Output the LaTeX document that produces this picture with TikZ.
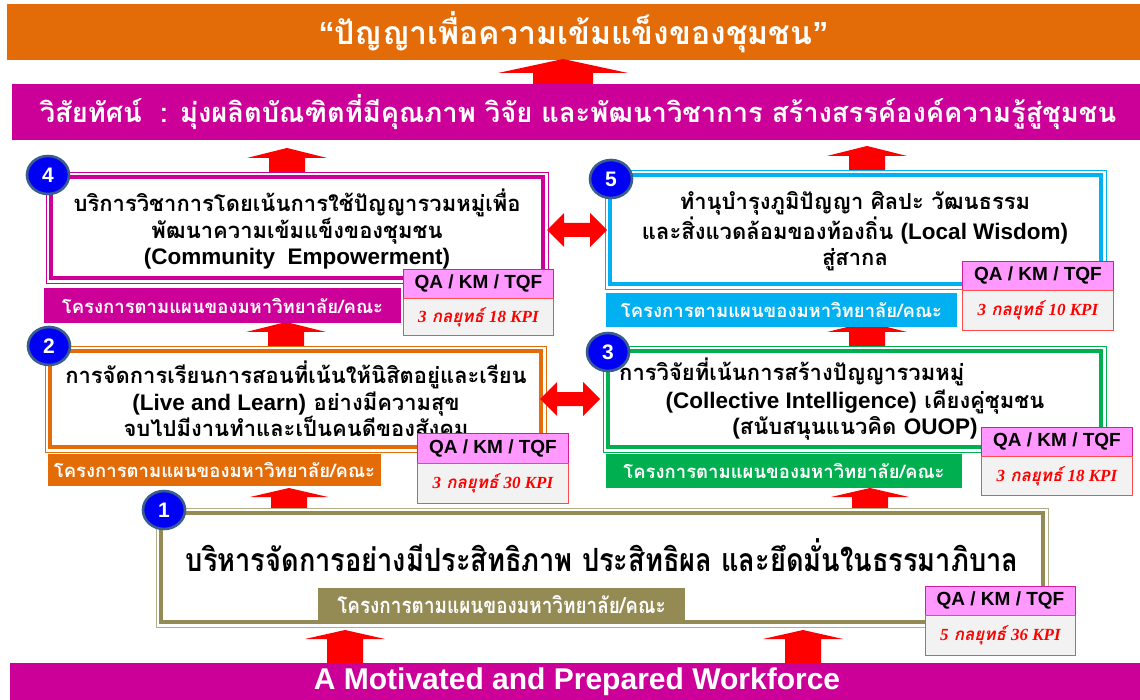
\documentclass[tikz,border=0pt]{standalone}
\usepackage{fontspec}
\usetikzlibrary{shapes.geometric}
\newfontfamily\thf[Script=Thai]{Loma}
\newfontfamily\thcond[Script=Thai,FakeStretch=0.85]{Loma}
\newfontfamily\thcondb[Script=Thai,FakeStretch=0.86]{Loma}
\newfontfamily\laf{Liberation Sans}
\newfontfamily\sef{Liberation Serif}
\definecolor{orangeC}{HTML}{E36C09}
\definecolor{magC}{HTML}{CC0099}
\definecolor{cyanC}{HTML}{00B0F0}
\definecolor{greenC}{HTML}{00B050}
\definecolor{oliveC}{HTML}{948A54}
\definecolor{oliveL}{HTML}{B3AC84}
\definecolor{qaPink}{HTML}{FF99FF}
\definecolor{qaLine}{HTML}{D61C96}
\definecolor{qaBody}{HTML}{F2F2F2}
\definecolor{qaRed}{HTML}{FF4B4B}
\definecolor{circFill}{HTML}{0000F5}
\definecolor{circLine}{HTML}{3A5D8F}
\definecolor{arrRed}{HTML}{FF0000}
\newcommand\UpArr[6]{% x, tip, headbase, bottom, headhalf, shafthalf
  \fill[arrRed] ({#1-#6},#4) -- ({#1-#6},#3) -- ({#1-#5},#3) -- (#1,#2) -- ({#1+#5},#3) -- ({#1+#6},#3) -- ({#1+#6},#4) -- cycle;}
\newcommand\DblArr[6]{% x1, x2, yc, headlen, headhalf, shafthalf
  \fill[arrRed] (#1,#3) -- ({#1+#4},{#3-#5}) -- ({#1+#4},{#3-#6}) -- ({#2-#4},{#3-#6}) -- ({#2-#4},{#3-#5}) -- (#2,#3)
   -- ({#2-#4},{#3+#5}) -- ({#2-#4},{#3+#6}) -- ({#1+#4},{#3+#6}) -- ({#1+#4},{#3+#5}) -- cycle;}
\newcommand\QAbox[7]{% name, x1, x2, y1, y2, y3, kpi text
  \node[qahead, minimum width={#3-#2}, minimum height={#5-#4}, anchor=north west] (#1h) at (#2,#4) {QA / KM / TQF};
  \node[qabody, minimum width={#3-#2}, minimum height={#6-#5}, anchor=north west] (#1b) at (#2,#5) {#7};}
\newcommand\KPI[2]{{\sef\bfseries\itshape #1} {\thf\bfseries\itshape กลยุทธ์} {\sef\bfseries\itshape #2 KPI}}
\newcommand\Lat[1]{{\laf\fontsize{22.5}{24}\selectfont #1}}
\begin{document}
\begin{tikzpicture}[x=1pt,y=-1pt,
  band/.style={fill=#1, draw=none, inner sep=0pt, text=white},
  outerb/.style={draw=#1, line width=0.9pt, fill=white, inner sep=0pt},
  innerb/.style={draw=#1, line width=3.4pt, inner sep=0pt},
  strip/.style={fill=#1, draw=none, inner sep=0pt, text=white, font=\thf\bfseries\fontsize{18.5}{20}\selectfont},
  boxtext/.style={align=center, inner sep=0pt, font=\thf\bfseries\fontsize{22}{25.5}\selectfont},
  numc/.style={ellipse, fill=circFill, draw=circLine, line width=2.6pt, minimum width=42pt, minimum height=38pt, inner sep=0pt, text=white, font=\laf\bfseries\fontsize{21}{21}\selectfont},
  qahead/.style={fill=qaPink, draw=qaLine, line width=0.9pt, inner sep=0pt, font=\laf\bfseries\fontsize{19}{19}\selectfont},
  qabody/.style={fill=qaBody, draw=qaRed, line width=0.9pt, inner sep=0pt, text=red, font=\fontsize{17}{17}\selectfont}]
\useasboundingbox (0,0) rectangle (1140,700);
\fill[white] (0,0) rectangle (1140,700);

% banners
\node[band=orangeC, minimum width=1133pt, minimum height=56pt, font=\thf\bfseries\fontsize{32}{34}\selectfont] (top) at (573.5,32) {{\laf “}ปัญญาเพื่อความเข้มแข็งของชุมชน{\laf ”}};
\node[band=magC, minimum width=1133pt, minimum height=56pt, font=\thf\bfseries\fontsize{27.3}{28}\selectfont] (vision) at (578,112) {วิสัยทัศน์~~: มุ่งผลิตบัณฑิตที่มีคุณภาพ วิจัย และพัฒนาวิชาการ สร้างสรรค์องค์ความรู้สู่ชุมชน};
\node[band=magC, minimum width=1135pt, minimum height=37pt, font=\laf\bfseries\fontsize{30}{30}\selectfont] (bottom) at (577,681.5) {A Motivated and Prepared Workforce};

% up arrows
\UpArr{563}{59}{73}{84}{65}{30}
\UpArr{287}{148}{158}{172}{40}{18}
\UpArr{867}{146}{156}{170}{40}{18}
\UpArr{286}{322}{332}{346}{40}{18}
\UpArr{867}{322}{332}{346}{40}{18}
\UpArr{289}{488}{497}{509}{39}{18}
\UpArr{870}{488}{497}{509}{39}{18}
\UpArr{345}{630}{639}{663}{40}{18}
\UpArr{803}{630}{639}{663}{40}{18}

% boxes
\node[outerb=magC, minimum width=502pt, minimum height=111pt] (b4o) at (297,227.5) {};
\node[innerb=magC, minimum width=492pt, minimum height=101pt] (b4) at (b4o) {};
\node[outerb=cyanC, minimum width=501pt, minimum height=119pt] (b5o) at (855.5,229.5) {};
\node[innerb=cyanC, minimum width=491pt, minimum height=109pt] (b5) at (b5o) {};
\node[outerb=orangeC, minimum width=501pt, minimum height=106pt] (b2o) at (295.5,399) {};
\node[innerb=orangeC, minimum width=491pt, minimum height=96pt] (b2) at (b2o) {};
\node[outerb=greenC, minimum width=503pt, minimum height=106pt] (b3o) at (854.5,399) {};
\node[innerb=greenC, minimum width=493pt, minimum height=96pt] (b3) at (b3o) {};
\node[outerb=oliveL, minimum width=892pt, minimum height=119pt] (b1o) at (602,567.5) {};
\node[innerb=oliveC, minimum width=882pt, minimum height=109pt] (b1) at (b1o) {};

% box texts
\node[boxtext] (t4) at (297,229) {บริการวิชาการโดยเน้นการใช้ปัญญารวมหมู่เพื่อ\\พัฒนาความเข้มแข็งของชุมชน\\\Lat{(Community~~Empowerment)}};
\node[boxtext, font=\thf\bfseries\fontsize{22}{26.5}\selectfont] (t5) at (855,231.5) {ทำนุบำรุงภูมิปัญญา ศิลปะ วัฒนธรรม\\และสิ่งแวดล้อมของท้องถิ่น \Lat{(Local Wisdom)}\\สู่สากล};
\node[boxtext, font=\thf\bfseries\fontsize{22}{26.5}\selectfont] (t2) at (296,399) {การจัดการเรียนการสอนที่เน้นให้นิสิตอยู่และเรียน\\\Lat{(Live and Learn)} อย่างมีความสุข\\จบไปมีงานทำและเป็นคนดีของสังคม};
\node[boxtext, anchor=west] (t3a) at (619,372) {การวิจัยที่เน้นการสร้างปัญญารวมหมู่};
\node[boxtext, font=\thf\bfseries\fontsize{22}{26}\selectfont] (t3b) at (855,415) {\Lat{(Collective Intelligence)} เคียงคู่ชุมชน\\\Lat{(}สนับสนุนแนวคิด \Lat{OUOP)}};
\node[boxtext, font=\thcond\bfseries\fontsize{32}{34}\selectfont] (t1) at (602,555) {บริหารจัดการอย่างมีประสิทธิภาพ ประสิทธิผล และยึดมั่นในธรรมาภิบาล};

% strips
\node[strip=magC, minimum width=357pt, minimum height=35pt] (s4) at (222.5,305.5) {โครงการตามแผนของมหาวิทยาลัย/คณะ};
\node[strip=cyanC, minimum width=351pt, minimum height=34pt] (s5) at (781.5,310) {โครงการตามแผนของมหาวิทยาลัย/คณะ};
\node[strip=orangeC, minimum width=333pt, minimum height=32pt] (s2) at (214.5,470) {โครงการตามแผนของมหาวิทยาลัย/คณะ};
\node[strip=greenC, minimum width=356pt, minimum height=34pt] (s3) at (784,471) {โครงการตามแผนของมหาวิทยาลัย/คณะ};
\node[strip=oliveC, minimum width=367pt, minimum height=34pt, font=\thcondb\bfseries\fontsize{22}{23}\selectfont] (s1) at (501.5,605) {โครงการตามแผนของมหาวิทยาลัย/คณะ};

% QA boxes
\QAbox{q4}{403}{553}{269}{298}{335}{\KPI{3}{18}}
\QAbox{q5}{962}{1113}{261}{290}{330}{\KPI{3}{10}}
\QAbox{q2}{417}{568}{433}{463}{503}{\KPI{3}{30}}
\QAbox{q3}{981}{1132}{427}{456}{495}{\KPI{3}{18}}
\QAbox{q1}{925}{1075}{586}{615}{655}{\KPI{5}{36}}

% double arrows
\DblArr{547}{607}{230}{17}{17}{7}
\DblArr{540}{600}{399}{17}{17}{7}

% number circles
\node[numc] (c4) at (48,175) {4};
\node[numc] (c5) at (611,179) {5};
\node[numc] (c2) at (49,346) {2};
\node[numc] (c3) at (608,352) {3};
\node[numc] (c1) at (164,510) {1};
\end{tikzpicture}
\end{document}
